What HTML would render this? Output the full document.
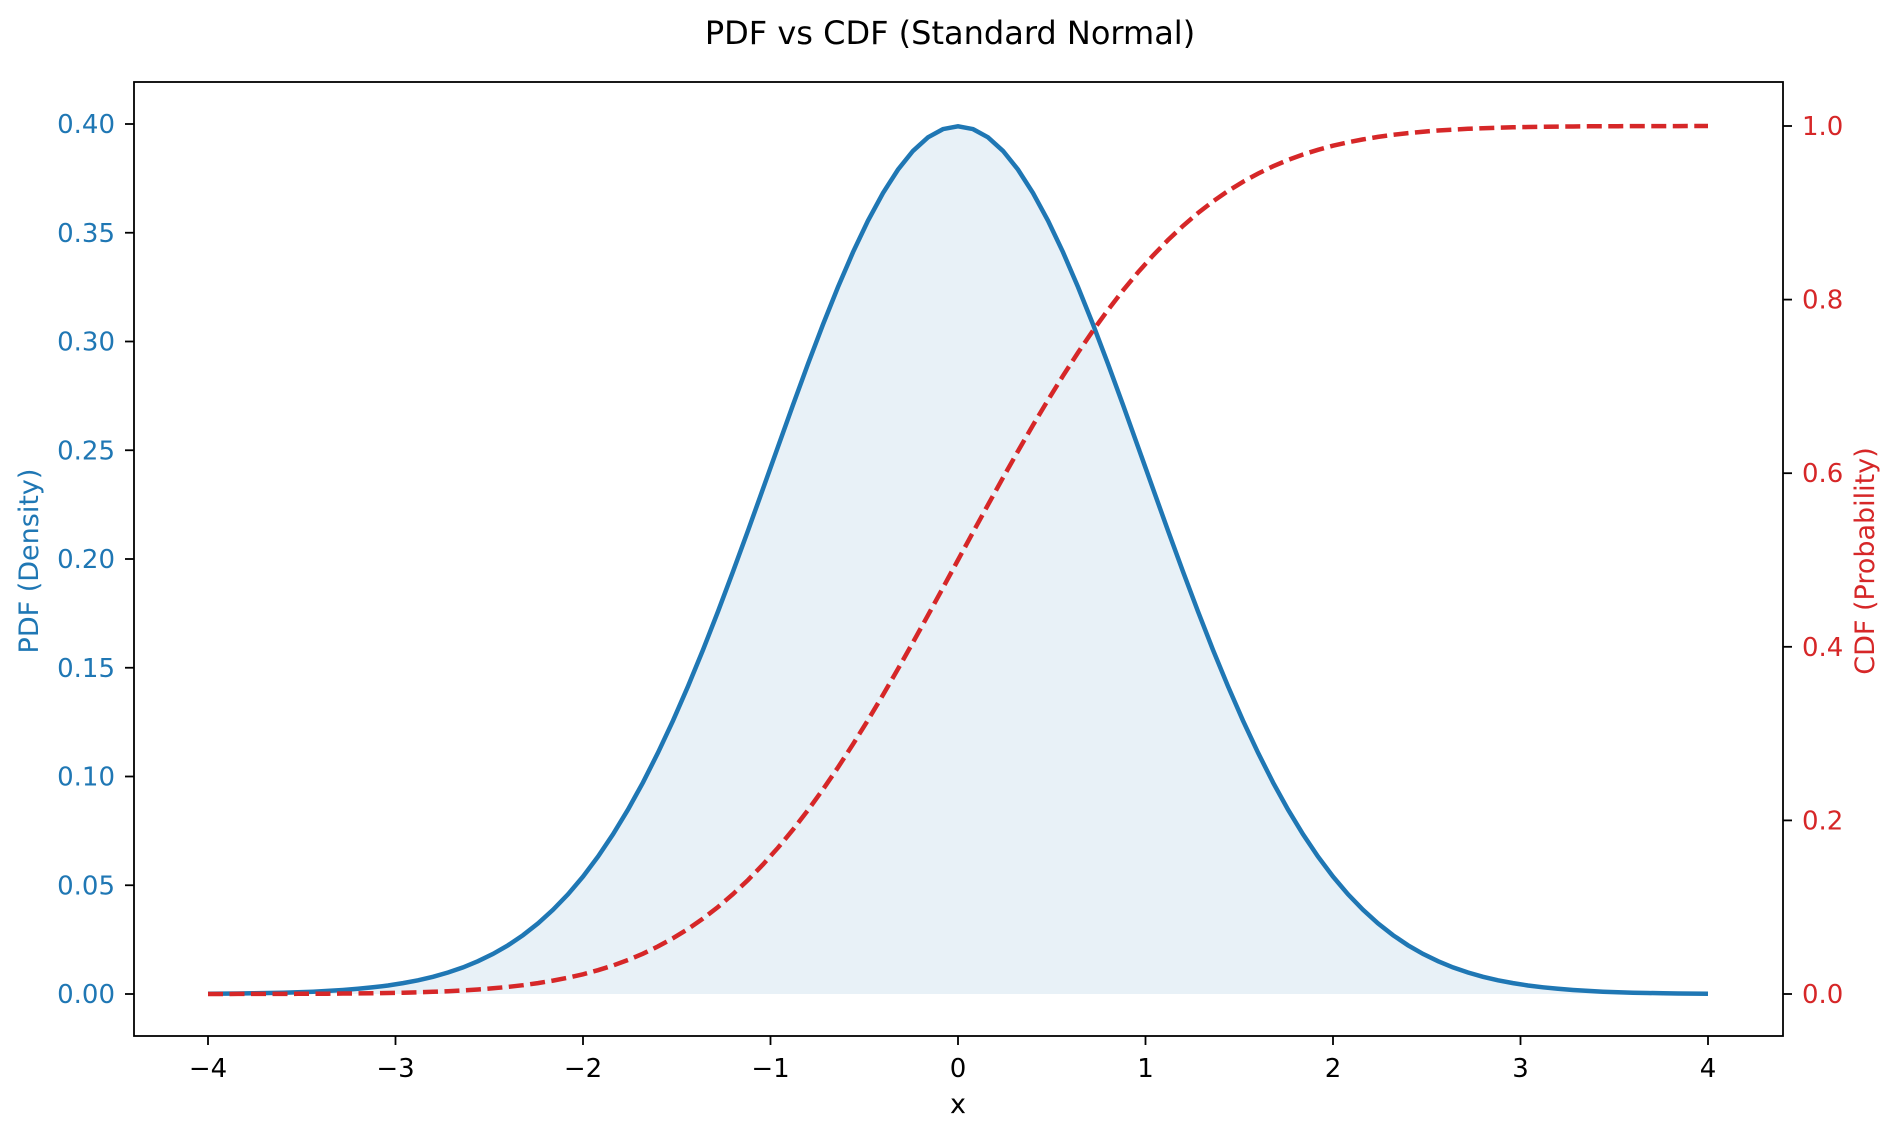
<!DOCTYPE html>
<html><head><meta charset="utf-8"><style>
body{margin:0;background:#fff}
svg text{font-family:"DejaVu Sans","Liberation Sans",sans-serif}
</style></head><body>
<svg id="s" width="1900" height="1138" xmlns="http://www.w3.org/2000/svg">
<rect width="1900" height="1138" fill="#fff"/>
<text x="950" y="44" font-size="32" text-anchor="middle">PDF vs CDF (Standard Normal)</text>
<g id="g"></g>
<rect x="134" y="82" width="1649" height="954" fill="none" stroke="#000" stroke-width="1.8"/>
<text x="958" y="1113" font-size="27" text-anchor="middle">x</text>
<text transform="translate(38,561) rotate(-90)" font-size="27" fill="#1f77b4" text-anchor="middle">PDF (Density)</text>
<text transform="translate(1874,561) rotate(-90)" font-size="27" fill="#d62728" text-anchor="middle">CDF (Probability)</text>
</svg>
<script>
var g=document.getElementById('g'),h='';
function X(x){return 958+x*187.5}
function YP(v){return 994-v/0.4*870}
function YC(c){return 994-c*868}
function erf(x){var s=x<0?-1:1;x=Math.abs(x);var t=1/(1+0.3275911*x);var y=1-(((((1.061405429*t-1.453152027)*t)+1.421413741)*t-0.284496736)*t+0.254829592)*t*Math.exp(-x*x);return s*y}
var p=[],c=[];
for(var i=0;i<=100;i++){var x=-4+8*i/100;var pd=Math.exp(-x*x/2)/Math.sqrt(2*Math.PI);var cd=0.5*(1+erf(x/Math.SQRT2));p.push(X(x).toFixed(1)+','+YP(pd).toFixed(1));c.push(X(x).toFixed(1)+','+YC(cd).toFixed(1));}
h+='<polygon points="'+X(-4)+','+YP(0)+' '+p.join(' ')+' '+X(4)+','+YP(0)+'" fill="#1f77b4" fill-opacity="0.1"/>';
h+='<polyline points="'+p.join(' ')+'" fill="none" stroke="#1f77b4" stroke-width="4.5"/>';
h+='<polyline points="'+c.join(' ')+'" fill="none" stroke="#d62728" stroke-width="4.5" stroke-dasharray="15,6.5"/>';
for(var k=-4;k<=4;k++){var xx=X(k);h+='<line x1="'+xx+'" y1="1036" x2="'+xx+'" y2="1045" stroke="#000" stroke-width="1.8"/><text x="'+xx+'" y="1077" font-size="26" text-anchor="middle">'+(k<0?'\u2212'+(-k):k)+'</text>';}
for(var j=0;j<=8;j++){var v=j*0.05,yy=YP(v);h+='<line x1="125" y1="'+yy+'" x2="134" y2="'+yy+'" stroke="#000" stroke-width="1.8"/><text x="115" y="'+(yy+9)+'" font-size="26" fill="#1f77b4" text-anchor="end">'+v.toFixed(2)+'</text>';}
for(var j=0;j<=5;j++){var v=j*0.2,yy=YC(v);h+='<line x1="1783" y1="'+yy+'" x2="1792" y2="'+yy+'" stroke="#000" stroke-width="1.8"/><text x="1802" y="'+(yy+9)+'" font-size="26" fill="#d62728">'+v.toFixed(1)+'</text>';}
g.innerHTML=h;
</script>
</body></html>
